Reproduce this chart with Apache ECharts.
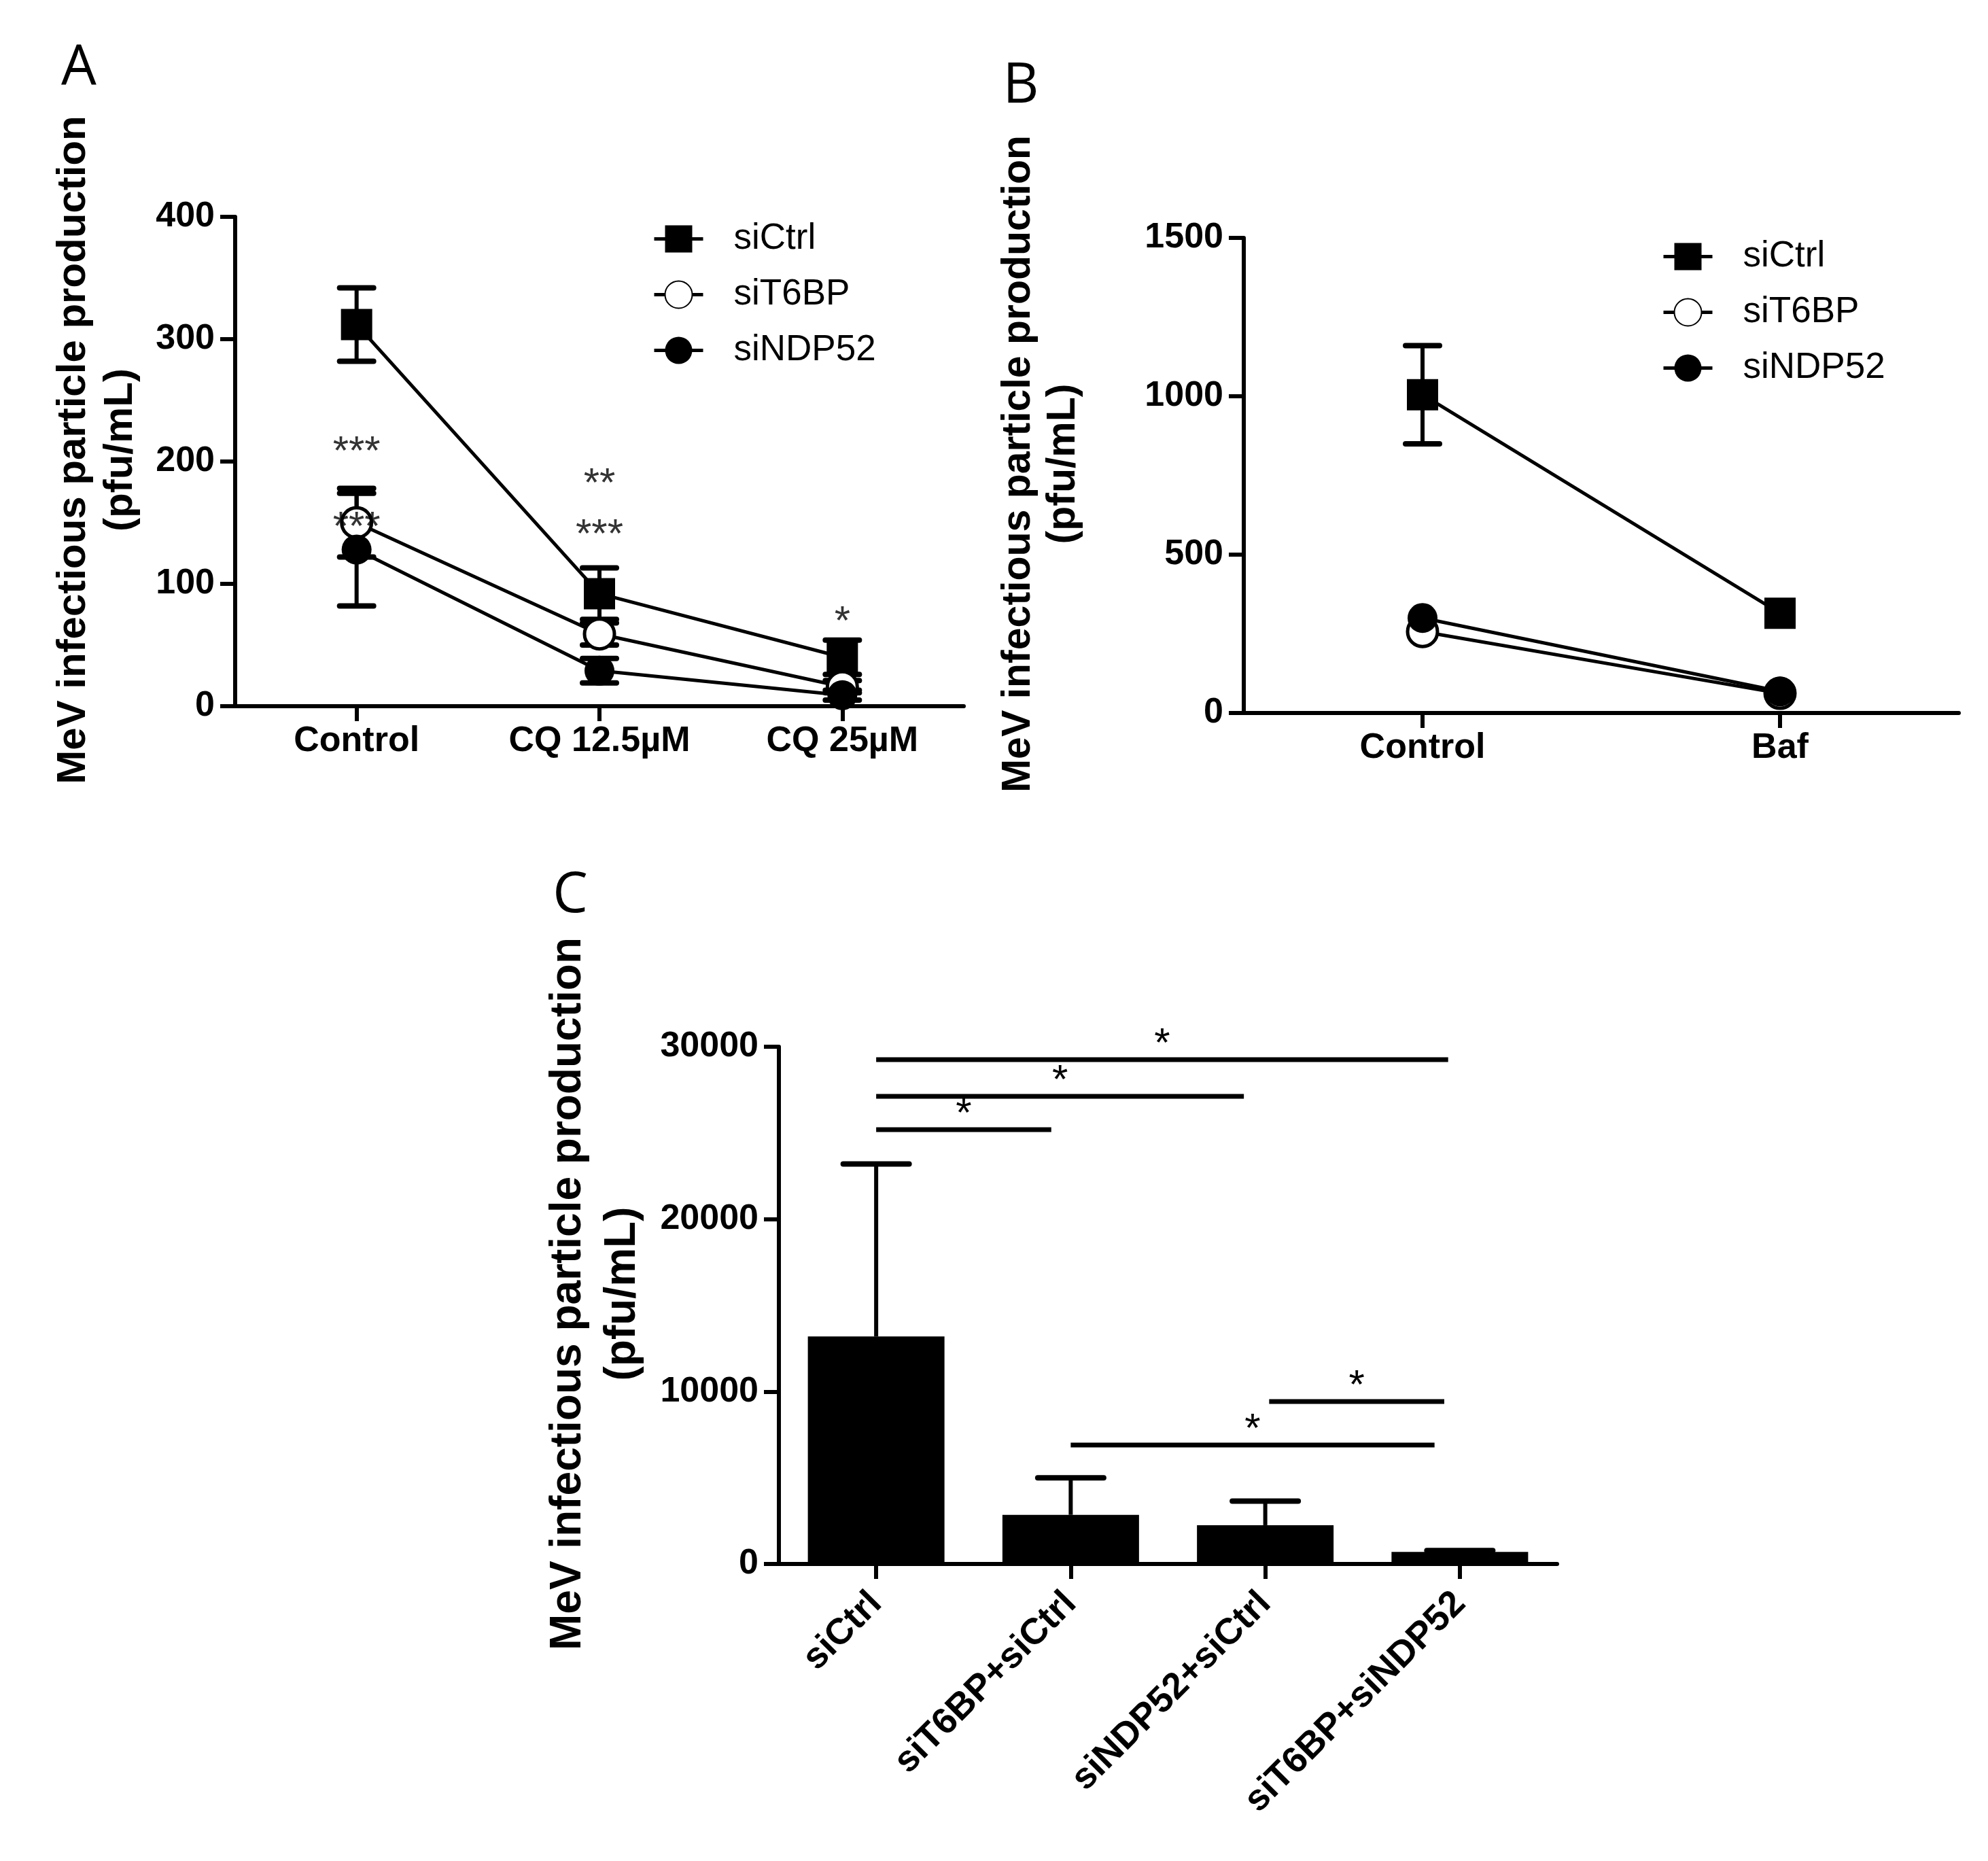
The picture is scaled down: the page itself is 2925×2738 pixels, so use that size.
<!DOCTYPE html>
<html><head><meta charset="utf-8">
<script src="https://cdn.jsdelivr.net/npm/echarts@6/dist/echarts.min.js"></script>
<style>html,body{margin:0;padding:0;background:#fff}#c{width:2925px;height:2738px}</style>
</head><body><div id="c"></div>
<script>
// ---------- Panel A ----------
const catsA = ['Control', 'CQ 12.5µM', 'CQ 25µM'];
const aCtrl = [312, 92, 40];
const aCtrlErr = [30, 21, 14];
const aT6BP = [150, 59, 16];
const aT6BPErr = [28, 9, 5];
const aNDP52 = [128, 29, 9];
const aNDP52Err = [46, 10, 4];
const annAX = [0, 0, 1, 1, 2];
const annAY = [216, 154, 190, 148, 77];
const annAText = ['***', '***', '**', '***', '*'];
const yMaxA = 400, yStepA = 100;
// ---------- Panel B ----------
const catsB = ['Control', 'Baf'];
const bCtrl = [1005, 315];
const bCtrlErr = [155, 0];
const bT6BP = [257, 62];
const bT6BPErr = [0, 0];
const bNDP52 = [300, 68];
const bNDP52Err = [0, 0];
const yMaxB = 1500, yStepB = 500;
// ---------- Panel C ----------
const catsC = ['siCtrl', 'siT6BP+siCtrl', 'siNDP52+siCtrl', 'siT6BP+siNDP52'];
const cMean = [13200, 2850, 2250, 700];
const cErr = [10000, 2150, 1400, 80];
const sigX1 = [0, 0, 0, 2.02, 1.0];
const sigX2 = [2.94, 1.89, 0.9, 2.92, 2.87];
const sigY = [29250, 27120, 25190, 9420, 6900];
const sigText = ['*', '*', '*', '*', '*'];
const yMaxC = 30000, yStepC = 10000;

const seriesNames = ['siCtrl', 'siT6BP', 'siNDP52'];
const yTitle = 'MeV infectious particle production\n(pfu/mL)';
const FONT = 'Liberation Sans';

const chart = echarts.init(document.getElementById('c'), null, { renderer: 'canvas' });

function yAxisCfg(gi, max, step, nameGap, fs, lh) {
  return {
    type: 'value', gridIndex: gi, min: 0, max: max, interval: step,
    name: yTitle, nameLocation: 'middle', nameGap: nameGap, nameRotate: 90,
    nameTextStyle: { fontFamily: FONT, fontWeight: 'bold', fontSize: fs, lineHeight: lh, color: '#000', align: 'center', padding: [0, 0, 0, 34] },
    axisLine: { show: true, onZero: false, lineStyle: { color: '#000', width: 6 } },
    axisTick: { show: true, inside: false, length: 22, lineStyle: { color: '#000', width: 6 } },
    axisLabel: { fontFamily: FONT, fontWeight: 'bold', fontSize: 52, color: '#000', margin: 30, formatter: v => String(v) },
    splitLine: { show: false }
  };
}
function xAxisCfg(gi, cats, fs, margin, rotate) {
  return {
    type: 'category', gridIndex: gi, data: cats, boundaryGap: true,
    axisLine: { show: true, onZero: false, lineStyle: { color: '#000', width: 6 } },
    axisTick: { show: true, alignWithLabel: true, inside: false, length: 22, lineStyle: { color: '#000', width: 6 } },
    axisLabel: { fontFamily: FONT, fontWeight: 'bold', fontSize: fs, color: '#000', margin: margin, rotate: rotate || 0, interval: 0 },
    splitLine: { show: false }
  };
}
function errBars(xi, yi, means, errs, capW, upperOnly, z) {
  return {
    type: 'custom', xAxisIndex: xi, yAxisIndex: yi, z: z, silent: true,
    data: means.map((m, i) => [i, upperOnly ? m : m - errs[i], m + errs[i], errs[i]]),
    encode: { x: 0, y: [1, 2] },
    renderItem: function (params, api) {
      if (!api.value(3)) return null;
      const lo = api.coord([api.value(0), api.value(1)]);
      const hi = api.coord([api.value(0), api.value(2)]);
      const cap = { stroke: '#000', lineWidth: 8, lineCap: 'round' };
      const kids = [
        { type: 'line', shape: { x1: lo[0], y1: lo[1], x2: hi[0], y2: hi[1] }, style: { stroke: '#000', lineWidth: 6 } },
        { type: 'line', shape: { x1: hi[0] - capW / 2, y1: hi[1], x2: hi[0] + capW / 2, y2: hi[1] }, style: cap }
      ];
      if (!upperOnly) kids.push({ type: 'line', shape: { x1: lo[0] - capW / 2, y1: lo[1], x2: lo[0] + capW / 2, y2: lo[1] }, style: cap });
      return { type: 'group', children: kids };
    }
  };
}
function lineSeries(name, xi, yi, data, symbol, fill, z) {
  return {
    type: 'line', name: name, xAxisIndex: xi, yAxisIndex: yi, data: data, z: z,
    symbol: symbol, symbolSize: symbol === 'rect' ? 46 : 44, showAllSymbol: true,
    lineStyle: { color: '#000', width: 5 },
    itemStyle: { color: fill, borderColor: '#000', borderWidth: fill === '#fff' ? 5 : 0 },
    emphasis: { disabled: true }
  };
}
function legendCfg(left, top) {
  return {
    data: seriesNames, orient: 'vertical', left: left, top: top,
    itemWidth: 72, itemHeight: 50, itemGap: 29, selectedMode: false,
    lineStyle: { width: 5, color: '#000' },
    textStyle: { fontFamily: FONT, fontSize: 53, lineHeight: 50, color: '#000', padding: [0, 0, 0, 40] }
  };
}
const letterStyle = { font: 'normal 82px "Open Sans"', fill: '#000', textAlign: 'center', textVerticalAlign: 'middle', align: 'center', verticalAlign: 'middle' };

const option = {
  animation: false,
  backgroundColor: '#fff',
  grid: [
    { left: 346, top: 319, width: 1072, height: 720 },
    { left: 1830, top: 350, width: 1052, height: 699 },
    { left: 1146, top: 1540, width: 1145, height: 761 }
  ],
  xAxis: [
    xAxisCfg(0, catsA, 52, 26),
    xAxisCfg(1, catsB, 52, 26),
    xAxisCfg(2, catsC, 54, 50, 45),
    { type: 'value', gridIndex: 2, min: -0.5, max: 3.5, show: false }
  ],
  yAxis: [
    yAxisCfg(0, yMaxA, yStepA, 134, 60, 69),
    yAxisCfg(1, yMaxB, yStepB, 232, 59, 66),
    yAxisCfg(2, yMaxC, yStepC, 190, 64, 80)
  ],
  legend: [legendCfg(955, 320), legendCfg(2440, 346)],
  graphic: [
    { type: 'text', x: 116, y: 102, style: Object.assign({ text: 'A' }, letterStyle) },
    { type: 'text', x: 1502, y: 128, style: Object.assign({ text: 'B' }, letterStyle) },
    { type: 'text', x: 839, y: 1319, style: Object.assign({ text: 'C' }, letterStyle) }
  ],
  series: [
    // Panel A
    errBars(0, 0, aT6BP, aT6BPErr, 50, false, 1),
    errBars(0, 0, aNDP52, aNDP52Err, 50, false, 1),
    errBars(0, 0, aCtrl, aCtrlErr, 50, false, 1),
    lineSeries('siT6BP', 0, 0, aT6BP, 'circle', '#fff', 2),
    lineSeries('siNDP52', 0, 0, aNDP52, 'circle', '#000', 3),
    lineSeries('siCtrl', 0, 0, aCtrl, 'rect', '#000', 4),
    {
      type: 'scatter', xAxisIndex: 0, yAxisIndex: 0, z: 10, symbolSize: 1, silent: true,
      itemStyle: { color: 'rgba(0,0,0,0)' },
      data: annAX.map((x, i) => [x, annAY[i], annAText[i]]),
      label: { show: true, position: 'inside', formatter: p => p.data[2], fontFamily: FONT, fontSize: 60, color: '#000', offset: [0, 16] }
    },
    // Panel B
    errBars(1, 1, bNDP52, bNDP52Err, 50, false, 1),
    errBars(1, 1, bT6BP, bT6BPErr, 50, false, 1),
    errBars(1, 1, bCtrl, bCtrlErr, 50, false, 1),
    lineSeries('siT6BP', 1, 1, bT6BP, 'circle', '#fff', 2),
    lineSeries('siNDP52', 1, 1, bNDP52, 'circle', '#000', 3),
    lineSeries('siCtrl', 1, 1, bCtrl, 'rect', '#000', 4),
    // Panel C
    {
      type: 'bar', xAxisIndex: 2, yAxisIndex: 2, data: cMean, barWidth: 201, z: 2,
      itemStyle: { color: '#000' }, emphasis: { disabled: true }
    },
    errBars(2, 2, cMean, cErr, 97, true, 3),
    {
      type: 'custom', xAxisIndex: 3, yAxisIndex: 2, z: 5, silent: true,
      data: sigY.map((y, i) => [sigX1[i], sigX2[i], y]),
      encode: { x: [0, 1], y: 2 },
      renderItem: function (params, api) {
        const a = api.coord([api.value(0), api.value(2)]);
        const b = api.coord([api.value(1), api.value(2)]);
        return {
          type: 'group', children: [
            { type: 'line', shape: { x1: a[0], y1: a[1], x2: b[0], y2: b[1] }, style: { stroke: '#000', lineWidth: 7 } },
            { type: 'text', x: (a[0] + b[0]) / 2, y: a[1] + 8, style: { text: sigText[params.dataIndex], fill: '#000', font: 'normal 60px "Liberation Sans"', textAlign: 'center', textVerticalAlign: 'bottom', align: 'center', verticalAlign: 'bottom' } }
          ]
        };
      }
    }
  ]
};
chart.setOption(option);
</script></body></html>
